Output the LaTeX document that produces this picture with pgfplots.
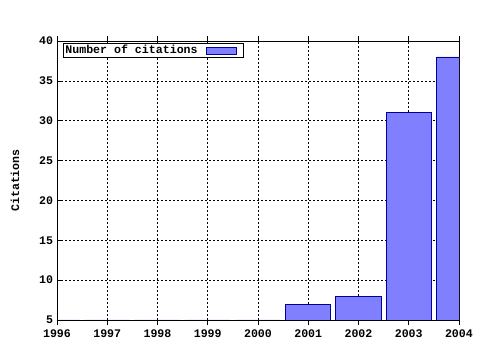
\documentclass[border=0pt]{standalone}
\usepackage{pgfplots}
\pgfplotsset{compat=1.18}
\usepackage{fontspec}
\setmainfont{Liberation Mono}[BoldFont={Liberation Mono Bold}]
\definecolor{barfill}{RGB}{128,128,255}
\definecolor{baredge}{RGB}{0,0,160}
\begin{document}
\fontsize{11.4bp}{13bp}\selectfont\bfseries
\begin{tikzpicture}
\begin{axis}[
  scale only axis,
  width=402bp, height=279bp,
  xmin=1996, xmax=2004,
  ymin=5, ymax=40,
  xtick={1996,...,2004},
  ytick={5,10,...,40},
  minor x tick num=4,
  x tick label style={/pgf/number format/1000 sep={}},
  /pgf/number format/assume math mode=true,
  tick label style={font=\fontsize{11.6bp}{13bp}\selectfont\bfseries},
  label style={font=\fontsize{11.6bp}{13bp}\selectfont\bfseries},
  tick align=inside,
  major tick length=5bp,
  minor tick length=3bp,
  every tick/.style={black, line width=0.6pt},
  grid=major,
  major grid style={black, line width=0.6pt, dash pattern=on 1.5bp off 2.5bp},
  axis line style={black, line width=0.8pt},
  ylabel={Citations},
  ylabel style={at={(ticklabel cs:0.5)}, anchor=south, yshift=12bp},
  xticklabel style={yshift=-1bp},
  ybar, bar width=0.9, bar shift=0pt,
  legend plot pos=right,
  legend style={at={(rel axis cs:0,1)}, anchor=north west, xshift=6bp, yshift=-2bp,
    draw=black, line width=0.8pt, inner sep=0.5bp, row sep=0pt,
    font=\fontsize{11.6bp}{13bp}\selectfont\bfseries, legend cell align=left},
  legend image code/.code={\path[draw=none, fill=none] (0bp,0bp) -- (44bp,0bp); \draw[#1, line width=0.8pt] (7bp,-3.5bp) rectangle (37bp,3.5bp);},
  legend style={nodes={inner sep=1.5bp}},
]
\addplot[fill=barfill, draw=baredge, line width=0.8pt] coordinates {
  (1996,0) (1997,0) (1998,0) (1999,0) (2000,0)
  (2001,7) (2002,8) (2003,31) (2004,38)
};
\addlegendentry{Number of citations}
\end{axis}
\pgfresetboundingbox
\path ([shift={(-57bp,-30bp)}]current axis.south west) rectangle ([shift={(21bp,41bp)}]current axis.north east);
\end{tikzpicture}
\end{document}
